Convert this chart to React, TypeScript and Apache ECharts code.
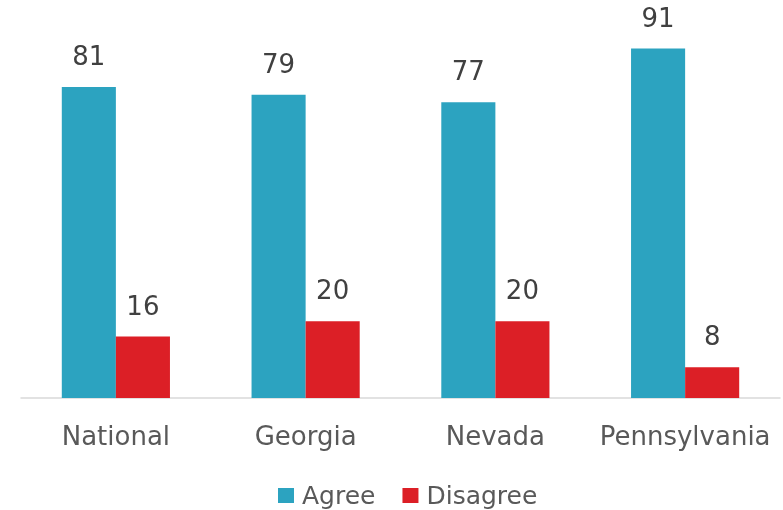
import React, { useEffect, useRef } from "react";
import * as echarts from "echarts";

const categories = ["National", "Georgia", "Nevada", "Pennsylvania"];
const agreeValues = [81, 79, 77, 91];
const disagreeValues = [16, 20, 20, 8];
const seriesNames = ["Agree", "Disagree"];

const FONT = "'DejaVu Sans', sans-serif";

export default function App() {
  const ref = useRef<HTMLDivElement>(null);
  useEffect(() => {
    if (!ref.current) return;
    const chart = echarts.init(ref.current, null, { renderer: "svg" });
    const label = {
      show: true,
      position: "top",
      distance: 18,
      color: "#404040",
      fontSize: 26,
      fontFamily: FONT,
    };
    chart.setOption({
      animation: false,
      grid: { left: 21, right: 3, top: 14, bottom: 112, containLabel: false },
      legend: {
        data: seriesNames,
        top: 478,
        left: 273,
        itemWidth: 16,
        itemHeight: 15,
        itemGap: 27,
        icon: "rect",
        textStyle: {
          color: "#595959",
          fontSize: 25,
          fontFamily: FONT,
          padding: [0, 0, 0, 3],
        },
      },
      xAxis: {
        type: "category",
        data: categories,
        axisLine: { lineStyle: { color: "#D9D9D9", width: 1.5 } },
        axisTick: { show: false },
        axisLabel: {
          color: "#595959",
          fontSize: 26,
          fontFamily: FONT,
          margin: 25,
          interval: 0,
        },
      },
      yAxis: {
        type: "value",
        min: 0,
        max: 100,
        show: false,
        splitLine: { show: false },
      },
      series: [
        {
          name: seriesNames[0],
          type: "bar",
          data: agreeValues,
          itemStyle: { color: "#2CA3C0" },
          barGap: "0%",
          barCategoryGap: "43%",
          label,
        },
        {
          name: seriesNames[1],
          type: "bar",
          data: disagreeValues,
          itemStyle: { color: "#DC1F26" },
          barGap: "0%",
          barCategoryGap: "43%",
          label,
        },
      ],
    });
    return () => chart.dispose();
  }, []);
  return (
    <div
      ref={ref}
      style={{ position: "fixed", left: 0, top: 0, width: 783, height: 510 }}
    />
  );
}
